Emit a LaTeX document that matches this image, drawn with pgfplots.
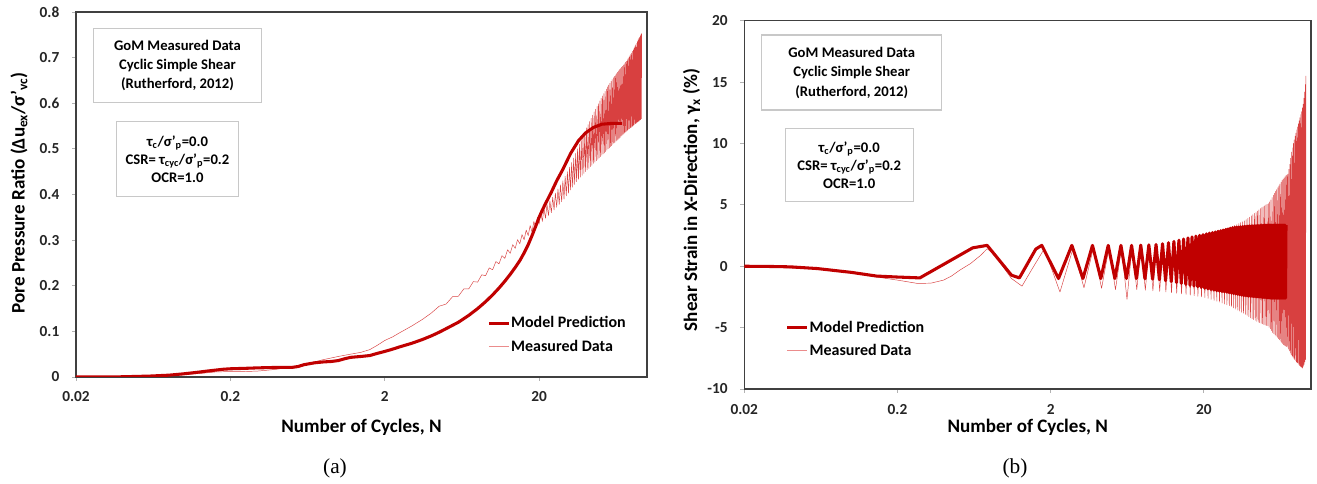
\documentclass[border=0pt]{standalone}
\usepackage{fontspec}
\setmainfont{Carlito}
\newfontfamily\capfont{Liberation Serif}
\usepackage{pgfplots}
\pgfplotsset{compat=1.18}
\definecolor{model}{RGB}{192,0,0}
\definecolor{meas}{RGB}{216,64,64}
\definecolor{measleg}{RGB}{235,140,140}
\definecolor{boxgray}{RGB}{200,200,200}
\tikzset{
  modelline/.style={color=model, line width=2.3pt, line join=round},
  measline/.style={color=meas, line width=0.35pt, line join=round},
}
\begin{document}
\begin{tikzpicture}
\useasboundingbox (0,0) rectangle (987.75pt,363pt);
% ---------------- (a) ----------------
\begin{axis}[scale only axis, xmode=log, xmin=0.02, xmax=100,
  xtick={0.02,0.2,2,20}, xticklabels={0.02,0.2,2,20},
  xminorticks=false,
  axis line style={draw=black!75, line width=1.1pt},
  tick style={draw=black!30, line width=0.6pt},
  tick align=outside, major tick length=3pt,
  xtick pos=bottom, ytick pos=left,
  ticklabel style={font=\bfseries\fontsize{11.5}{13}\selectfont, text=black!85},
  xticklabel style={yshift=-4.5pt}, yticklabel style={xshift=-6pt},
  legend style={draw=none, fill=none, font=\bfseries\fontsize{12}{14}\selectfont, row sep=6.5pt, nodes={inner sep=0.5pt}, at={(0.713,0.175)}, anchor=north west},
  legend cell align=left,
  legend image code/.code={\draw[#1] (0pt,0pt) -- (15pt,0pt);},
  at={(57pt,80.25pt)}, anchor=south west,
  width=428.25pt, height=273.75pt,
  ymin=0, ymax=0.8, ytick={0,0.1,0.2,0.3,0.4,0.5,0.6,0.7,0.8},
  yticklabels={0,0.1,0.2,0.3,0.4,0.5,0.6,0.7,0.8}]
\addlegendimage{modelline}\addlegendentry{Model Prediction}
\addlegendimage{color=measleg, line width=0.8pt}\addlegendentry{Measured Data}
% measured
\addplot[measline, forget plot] coordinates {
(0.02,0) (0.04,0) (0.06,0.001) (0.08,0.003) (0.1,0.005) (0.13,0.008) (0.16,0.011) (0.2,0.012) (0.25,0.012) (0.3,0.013) (0.35,0.015) (0.4,0.017) (0.5,0.022) (0.6,0.028) (0.7,0.033) (0.8,0.038) (1.0,0.045) (1.2,0.05) (1.4,0.054) (1.6,0.06) (1.8,0.07) (2.0,0.08) (2.25,0.088) (2.5,0.097)
(3,0.112) (3.5,0.126) (4,0.14) (4.5,0.155) (5,0.16) (5.5,0.176) (6,0.177) (6.5,0.193) (7,0.193) (7.5,0.209) (8,0.208) (8.5,0.224) (9,0.222) (9.5,0.239) (10,0.235) (10.5,0.253)
(11,0.248) (11.5,0.266) (12,0.26) (12.5,0.279) (13,0.271) (13.5,0.29) (14,0.282) (14.5,0.301) (15,0.292) (15.5,0.312) (16,0.301) (16.5,0.322) (17,0.31) (17.5,0.332) (18,0.318) (18.5,0.341) (19,0.326) (19.5,0.35) (20,0.335) (20.5,0.362)
(21,0.341) (21.5,0.37) (22,0.348) (22.5,0.378) (23,0.354) (23.5,0.386) (24,0.36) (24.5,0.394) (25,0.366) (25.5,0.403) (26,0.372) (26.5,0.412) (27,0.378) (27.5,0.421) (28,0.384) (28.5,0.43) (29,0.39) (29.5,0.44) (30,0.397) (30.5,0.45)
(31,0.403) (31.5,0.46) (32,0.41) (32.5,0.47) (33,0.416) (33.5,0.48) (34,0.422) (34.5,0.49) (35,0.428) (35.5,0.5) (36,0.433) (36.5,0.51) (37,0.438) (37.5,0.519) (38,0.442) (38.5,0.528) (39,0.446) (39.5,0.537) (40,0.45) (40.5,0.546)
(41,0.454) (41.5,0.553) (42,0.457) (42.5,0.56) (43,0.461) (43.5,0.567) (44,0.464) (44.5,0.574) (45,0.468) (45.5,0.581) (46,0.471) (46.5,0.587) (47,0.474) (47.5,0.593) (48,0.477) (48.5,0.599) (49,0.48) (49.5,0.605) (50,0.483) (50.5,0.611)
(51,0.486) (51.5,0.616) (52,0.489) (52.5,0.621) (53,0.491) (53.5,0.626) (54,0.494) (54.5,0.631) (55,0.497) (55.5,0.636) (56,0.5) (56.5,0.64) (57,0.502) (57.5,0.644) (58,0.505) (58.5,0.648) (59,0.507) (59.5,0.652) (60,0.51) (60.5,0.656)
(61,0.512) (61.5,0.659) (62,0.514) (62.5,0.662) (63,0.517) (63.5,0.665) (64,0.519) (64.5,0.668) (65,0.521) (65.5,0.671) (66,0.523) (66.5,0.674) (67,0.525) (67.5,0.676) (68,0.528) (68.5,0.679) (69,0.53) (69.5,0.681) (70,0.532) (70.5,0.684)
(71,0.534) (71.5,0.687) (72,0.536) (72.5,0.69) (73,0.537) (73.5,0.692) (74,0.539) (74.5,0.695) (75,0.541) (75.5,0.698) (76,0.543) (76.5,0.701) (77,0.544) (77.5,0.704) (78,0.546) (78.5,0.707) (79,0.547) (79.5,0.71) (80,0.549) (80.5,0.714)
(81,0.55) (81.5,0.717) (82,0.552) (82.5,0.721) (83,0.553) (83.5,0.724) (84,0.555) (84.5,0.728) (85,0.556) (85.5,0.731) (86,0.558) (86.5,0.735) (87,0.559) (87.5,0.739) (88,0.56) (88.5,0.742) (89,0.561) (89.5,0.745) (90,0.563) (90.5,0.748)
(91,0.564) (91.5,0.751) (92,0.566) (92.3,0.753)
};
% model
\addplot[modelline, forget plot] coordinates {
(0.02,0) (0.03,0) (0.04,0.0005) (0.06,0.002) (0.08,0.004) (0.1,0.007) (0.12,0.01) (0.15,0.014) (0.18,0.017) (0.2,0.018) (0.25,0.019) (0.3,0.02) (0.4,0.021) (0.5,0.021) (0.55,0.023) (0.6,0.027) (0.7,0.031) (0.8,0.033) (0.9,0.034) (1.0,0.036) (1.1,0.04) (1.2,0.043) (1.4,0.045) (1.6,0.047) (1.8,0.052) (2.0,0.056) (2.2,0.06) (2.5,0.066) (3.0,0.074) (3.5,0.082) (4.0,0.09) (4.5,0.098) (5.0,0.106) (6,0.12) (7,0.135) (8,0.15) (9,0.165) (10,0.18) (11,0.195) (12,0.21) (13,0.225) (14,0.24) (15,0.255) (16,0.272) (17,0.29) (18,0.31) (19,0.33) (20,0.35) (21,0.366) (22,0.38) (24,0.405) (26,0.43) (28.5,0.455) (32,0.49) (36,0.518) (40,0.535) (45,0.547) (51,0.554) (60,0.556) (69,0.556)
};
\end{axis}
% ---------------- (b) ----------------
\begin{axis}[scale only axis, xmode=log, xmin=0.02, xmax=100,
  xtick={0.02,0.2,2,20}, xticklabels={0.02,0.2,2,20},
  xminorticks=false,
  axis line style={draw=black!75, line width=1.1pt},
  tick style={draw=black!30, line width=0.6pt},
  tick align=outside, major tick length=3pt,
  xtick pos=bottom, ytick pos=left,
  ticklabel style={font=\bfseries\fontsize{11.5}{13}\selectfont, text=black!85},
  xticklabel style={yshift=-5pt}, yticklabel style={xshift=-6pt},
  legend style={draw=none, fill=none, font=\bfseries\fontsize{12}{14}\selectfont, row sep=6.5pt, nodes={inner sep=0.5pt}, at={(0.066,0.195)}, anchor=north west},
  legend cell align=left,
  legend image code/.code={\draw[#1] (0pt,0pt) -- (15pt,0pt);},
  at={(558.2pt,71.25pt)}, anchor=south west,
  width=425pt, height=276.2pt,
  ymin=-10, ymax=20, ytick={-10,-5,0,5,10,15,20},
  yticklabels={-10,-5,0,5,10,15,20}]
\addlegendimage{modelline}\addlegendentry{Model Prediction}
\addlegendimage{color=measleg, line width=0.8pt}\addlegendentry{Measured Data}
% measured
\addplot[measline, forget plot] coordinates {
(0.02,0) (0.03,-0.05) (0.04,-0.15) (0.05,-0.2) (0.06,-0.2) (0.08,-0.3) (0.1,-0.5) (0.15,-0.9) (0.2,-1.13) (0.27,-1.4) (0.33,-1.38) (0.4,-1.13) (0.45,-0.8) (0.51,-0.32) (0.6,0.22) (0.7,0.9) (0.77,1.43) (0.85,1.0) (1.11,-1.0) (1.3,-1.62) (1.5,-0.3) (1.82,1.43)
(2.3,-2.1) (2.8,1.45) (3.3,-1.75) (3.8,1.5) (4.3,-1.8) (4.8,1.5) (5.3,-1.9) (5.8,1.55) (6.3,-2.7) (6.8,1.6) (7.3,-1.9) (7.8,1.65) (8.3,-1.95) (8.8,1.7) (9.3,-2) (9.8,1.75) (10.3,-2.05) (10.8,1.85)
(11.3,-2.1) (11.8,1.9) (12.3,-2.15) (12.8,2) (13.3,-2.2) (13.8,2.05) (14.3,-2.25) (14.8,2.1) (15.3,-2.3) (15.8,2.2) (16.3,-2.35) (16.8,2.25) (17.3,-2.4) (17.8,2.3) (18.3,-2.45) (18.8,2.4) (19.3,-2.5) (19.8,2.45) (20.3,-2.55) (20.8,2.5)
(21.3,-2.62) (21.8,2.58) (22.3,-2.7) (22.8,2.65) (23.3,-2.78) (23.8,2.72) (24.3,-2.85) (24.8,2.8) (25.3,-2.92) (25.8,2.88) (26.3,-3) (26.8,2.95) (27.3,-3.08) (27.8,3.02) (28.3,-3.15) (28.8,3.1) (29.3,-3.22) (29.8,3.18) (30.3,-3.3) (30.8,3.25)
(31.3,-3.4) (31.8,3.32) (32.3,-3.5) (32.8,3.4) (33.3,-3.58) (33.8,3.48) (34.3,-3.65) (34.8,3.55) (35.3,-3.75) (35.8,3.62) (36.3,-3.85) (36.8,3.7) (37.3,-3.92) (37.8,3.8) (38.3,-4) (38.8,3.9) (39.3,-4.1) (39.8,4) (40.3,-4.2) (40.8,4.1)
(41.3,-4.28) (41.8,4.2) (42.3,-4.35) (42.8,4.3) (43.3,-4.42) (43.8,4.4) (44.3,-4.5) (44.8,4.5) (45.3,-4.55) (45.8,4.6) (46.3,-4.6) (46.8,4.7) (47.3,-4.65) (47.8,4.78) (48.3,-4.7) (48.8,4.85) (49.3,-4.75) (49.8,4.92) (50.3,-4.8) (50.8,5)
(51.3,-4.83) (51.8,5.05) (52.3,-4.85) (52.8,5.1) (53.3,-4.98) (53.8,5.25) (54.3,-5.1) (54.8,5.4) (55.3,-5.25) (55.8,5.6) (56.3,-5.4) (56.8,5.8) (57.3,-5.5) (57.8,5.95) (58.3,-5.6) (58.8,6.1) (59.3,-5.7) (59.8,6.25) (60.3,-5.8) (60.8,6.4)
(61.3,-5.9) (61.8,6.55) (62.3,-6) (62.8,6.7) (63.3,-6.1) (63.8,6.85) (64.3,-6.2) (64.8,7) (65.3,-6.3) (65.8,7.1) (66.3,-6.4) (66.8,7.2) (67.3,-6.45) (67.8,7.3) (68.3,-6.5) (68.8,7.4) (69.3,-6.55) (69.8,7.45) (70.3,-6.6) (70.8,7.5)
(71.3,-6.75) (71.8,7.9) (72.3,-6.9) (72.8,8.3) (73.3,-7.05) (73.8,8.8) (74.3,-7.2) (74.8,9.3) (75.3,-7.3) (75.8,9.65) (76.3,-7.4) (76.8,10) (77.3,-7.5) (77.8,10.3) (78.3,-7.6) (78.8,10.6) (79.3,-7.7) (79.8,10.85) (80.3,-7.8) (80.8,11.1)
(81.3,-7.85) (81.8,11.35) (82.3,-7.9) (82.8,11.6) (83.3,-8) (83.8,11.85) (84.3,-8.1) (84.8,12.1) (85.3,-8.15) (85.8,12.35) (86.3,-8.2) (86.8,12.6) (87.3,-8.25) (87.8,12.9) (88.3,-8.3) (88.8,13.2) (89.3,-8.15) (89.8,13.7) (90.3,-8) (90.8,14.2)
(91.3,-7.8) (91.8,14.8) (92.3,-7.6) (92.8,15.5)
};
% model
\addplot[modelline, forget plot] coordinates {
(0.02,0) (0.03,-0.02) (0.04,-0.05) (0.06,-0.19) (0.1,-0.5) (0.146,-0.8) (0.2,-0.88) (0.28,-0.95) (0.62,1.5) (0.77,1.7) (1.11,-0.73) (1.25,-0.95) (1.6,1.4) (1.75,1.7)
(2.25,-1) (2.75,1.7) (3.25,-1) (3.75,1.7) (4.25,-1) (4.75,1.7) (5.25,-1) (5.75,1.7) (6.25,-1) (6.75,1.7) (7.25,-1) (7.75,1.72) (8.25,-1.02) (8.75,1.74) (9.25,-1.05) (9.75,1.77) (10.25,-1.1) (10.75,1.83)
(11.25,-1.18) (11.75,1.92) (12.25,-1.25) (12.75,2.02) (13.25,-1.33) (13.75,2.12) (14.25,-1.4) (14.75,2.22) (15.25,-1.48) (15.75,2.31) (16.25,-1.55) (16.75,2.39) (17.25,-1.62) (17.75,2.46) (18.25,-1.68) (18.75,2.52) (19.25,-1.74) (19.75,2.58) (20.25,-1.8) (20.75,2.64)
(21.25,-1.85) (21.75,2.7) (22.25,-1.9) (22.75,2.75) (23.25,-1.95) (23.75,2.8) (24.25,-2) (24.75,2.85) (25.25,-2.03) (25.75,2.9) (26.25,-2.06) (26.75,2.95) (27.25,-2.09) (27.75,3) (28.25,-2.12) (28.75,3.05) (29.25,-2.16) (29.75,3.1) (30.25,-2.2) (30.75,3.14)
(31.25,-2.23) (31.75,3.17) (32.25,-2.26) (32.75,3.19) (33.25,-2.29) (33.75,3.2) (34.25,-2.32) (34.75,3.22) (35.25,-2.35) (35.75,3.23) (36.25,-2.38) (36.75,3.25) (37.25,-2.4) (37.75,3.26) (38.25,-2.42) (38.75,3.27) (39.25,-2.44) (39.75,3.28) (40.25,-2.45) (40.75,3.29)
(41.25,-2.46) (41.75,3.3) (42.25,-2.47) (42.75,3.3) (43.25,-2.48) (43.75,3.31) (44.25,-2.49) (44.75,3.31) (45.25,-2.5) (45.75,3.32) (46.25,-2.51) (46.75,3.32) (47.25,-2.52) (47.75,3.33) (48.25,-2.53) (48.75,3.33) (49.25,-2.54) (49.75,3.34) (50.25,-2.55) (50.75,3.35)
(51.25,-2.56) (51.75,3.35) (52.25,-2.57) (52.75,3.35) (53.25,-2.58) (53.75,3.35) (54.25,-2.59) (54.75,3.35) (55.25,-2.6) (55.75,3.35) (56.25,-2.6) (56.75,3.35) (57.25,-2.6) (57.75,3.35) (58.25,-2.6) (58.75,3.35) (59.25,-2.6) (59.75,3.35) (60.25,-2.6) (60.75,3.35)
(61.25,-2.6) (61.75,3.35) (62.25,-2.6) (62.75,3.35) (63.25,-2.6) (63.75,3.35) (64.25,-2.6) (64.75,3.35) (65.25,-2.6) (65.75,3.35) (66.25,-2.6) (66.75,3.35) (67.25,-2.6) (67.75,3.35) (68.25,-2.6) (68.75,3.35)
};
\end{axis}
% ---------------- labels ----------------
\node[font=\bfseries\fontsize{14.3}{17}\selectfont] at (271.1pt,42.75pt) {Number of Cycles, N};
\node[font=\bfseries\fontsize{14.3}{17}\selectfont] at (770.8pt,42.75pt) {Number of Cycles, N};
\node[font=\bfseries\fontsize{14.3}{17}\selectfont, rotate=90] at (14.25pt,218.25pt) {Pore Pressure Ratio (Δu\textsubscript{ex}/σ’\textsubscript{vc})};
\node[font=\bfseries\fontsize{14.3}{17}\selectfont, rotate=90] at (518.7pt,213pt) {Shear Strain in X-Direction, γ\textsubscript{x} (\%)};
\node[font=\capfont\fontsize{16}{18}\selectfont] at (251.25pt,12pt) {(a)};
\node[font=\capfont\fontsize{16}{18}\selectfont] at (761.25pt,12pt) {(b)};
% ---------------- boxes ----------------
\tikzset{infobox/.style={draw=boxgray, line width=0.8pt, fill=white, align=center, inner sep=0pt, font=\bfseries\fontsize{11}{14.6}\selectfont}}
\node[infobox, minimum width=126.3pt, minimum height=55.8pt] at (133.1pt,313.9pt) {GoM Measured Data\\Cyclic Simple Shear\\(Rutherford, 2012)};
\node[infobox, minimum width=91.2pt, minimum height=56.2pt, font=\bfseries\fontsize{11}{13.75}\selectfont] at (133.1pt,243.6pt) {τ\textsubscript{c}/σ’\textsubscript{p}=0.0\\CSR= τ\textsubscript{cyc}/σ’\textsubscript{p}=0.2\\OCR=1.0};
\node[infobox, minimum width=135pt, minimum height=56.25pt] at (638.8pt,308.6pt) {GoM Measured Data\\Cyclic Simple Shear\\(Rutherford, 2012)};
\node[infobox, minimum width=96.25pt, minimum height=55pt, font=\bfseries\fontsize{11}{13.75}\selectfont] at (636.9pt,239.2pt) {τ\textsubscript{c}/σ’\textsubscript{p}=0.0\\CSR= τ\textsubscript{cyc}/σ’\textsubscript{p}=0.2\\OCR=1.0};
\end{tikzpicture}
\end{document}
